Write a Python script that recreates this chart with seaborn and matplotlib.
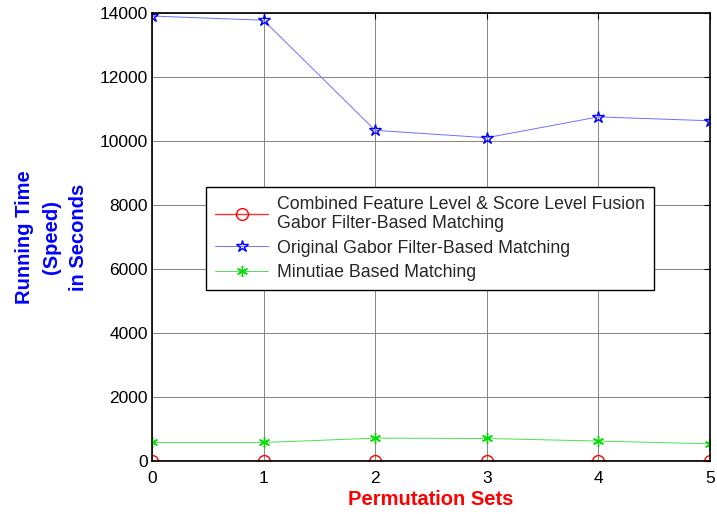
import matplotlib
matplotlib.use("Agg")
import matplotlib.pyplot as plt
import seaborn as sns
import pandas as pd

# Running time per permutation set for each matching method
perm_sets = [0, 1, 2, 3, 4, 5]
fusion_time = [15, 15, 15, 15, 15, 15]
gabor_time = [13900, 13770, 10330, 10100, 10750, 10630]
minutiae_time = [580, 580, 715, 705, 625, 540]

labels = [
    "Combined Feature Level & Score Level Fusion\nGabor Filter-Based Matching",
    "Original Gabor Filter-Based Matching",
    "Minutiae Based Matching",
]
yticks = [0, 2000, 4000, 6000, 8000, 10000, 12000, 14000]

df = pd.DataFrame({
    "set": perm_sets * 3,
    "time": fusion_time + gabor_time + minutiae_time,
    "method": [labels[0]] * 6 + [labels[1]] * 6 + [labels[2]] * 6,
})

sns.set_style("white")
plt.rcParams["font.family"] = ["Liberation Sans", "DejaVu Sans"]

fig = plt.figure(figsize=(7.17, 5.14), dpi=100)
ax = fig.add_axes([0.212, 0.103, 0.778, 0.872])

line_colors = ["#ff3030", "#7070ff", "#50e050"]
edge_colors = ["#ff0000", "#0000ff", "#00dd00"]
marker_shapes = ["o", "*", (6, 2, 0)]
marker_sizes = [8.5, 9, 8]

palette = dict(zip(labels, line_colors))
markers = dict(zip(labels, ["o", "*", "*"]))
sns.lineplot(data=df, x="set", y="time", hue="method", style="method",
             palette=palette, markers=markers, dashes=False, ax=ax,
             linewidth=0.6, legend=True)


def restyle(line, i):
    line.set_marker(marker_shapes[i])
    line.set_color(line_colors[i])
    line.set_markeredgecolor(edge_colors[i])
    line.set_markerfacecolor("none")
    line.set_markersize(marker_sizes[i])
    line.set_markeredgewidth(1.0)
    line.set_linewidth(1.8 if i == 0 else 0.7)


for i, line in enumerate(ax.get_lines()[:3]):
    restyle(line, i)

ax.set_xlim(0, 5)
ax.set_ylim(0, 14000)
ax.set_xticks(perm_sets)
ax.set_yticks(yticks)
ax.tick_params(direction="in", length=4, labelsize=12.5, top=True, right=True,
               color="black", labelcolor="black")
ax.tick_params(axis="x", pad=7)
ax.tick_params(axis="y", pad=3)
ax.grid(True, color="#666666", linewidth=0.7, alpha=0.8)
for s in ax.spines.values():
    s.set_visible(True)
    s.set_color("black")
    s.set_linewidth(1.2)

ax.set_xlabel("Permutation Sets", color="#ff0000", fontsize=14.5,
              fontweight="bold", labelpad=3)
ax.set_ylabel("Running Time\n(Speed)\nin Seconds", color="#0000ff",
              fontsize=14.5, fontweight="bold", labelpad=8, linespacing=1.55)

handles, _ = ax.get_legend_handles_labels()
for i, h in enumerate(handles[:3]):
    restyle(h, i)
    h.set_linewidth(1.0 if i == 0 else 0.7)
leg = ax.legend(handles[:3], labels, loc="upper left",
                bbox_to_anchor=(0.097, 0.612), frameon=True, fancybox=False,
                fontsize=12.8, handlelength=3.0, handletextpad=0.5,
                borderpad=0.5, borderaxespad=0, labelspacing=0.42,
                edgecolor="black", framealpha=1)
leg.get_frame().set_linewidth(1.0)

fig.savefig("out.png", dpi=100)
